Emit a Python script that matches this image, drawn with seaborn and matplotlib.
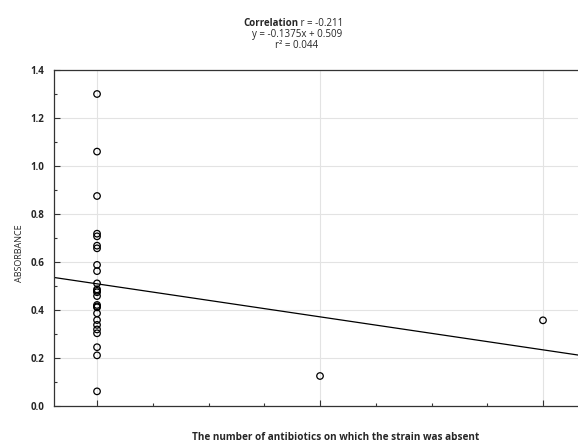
import numpy as np
import pandas as pd
import matplotlib.pyplot as plt
import seaborn as sns
from matplotlib.ticker import MultipleLocator

# valores
antibiotics = [0] * 25 + [1, 2]
absorbance = [1.30, 1.06, 0.875, 0.718, 0.707, 0.668, 0.657, 0.588, 0.562,
              0.511, 0.486, 0.474, 0.458, 0.421, 0.411, 0.386, 0.358, 0.338,
              0.319, 0.303, 0.245, 0.211, 0.061, 0.48, 0.415,
              0.125, 0.357]
slope = -0.1375
intercept = 0.509
r_value = -0.211
r2_value = 0.044

df = pd.DataFrame({'antibiotics': antibiotics, 'absorbance': absorbance})

sns.set_style("white")
plt.rcParams['font.family'] = ['Open Sans', 'DejaVu Sans']

fig = plt.figure(figsize=(5.78, 4.42), dpi=100)
ax = fig.add_axes([54 / 578, 36 / 442, 524 / 578, 336 / 442])

sns.scatterplot(data=df, x='antibiotics', y='absorbance', ax=ax,
                marker='o', s=22, facecolor='none', edgecolor='black',
                linewidth=0.9, zorder=3)
ax.axline((0, intercept), slope=slope, color='black', linewidth=0.9, zorder=2)

ax.set_xlim(-0.193, 2.157)
ax.set_ylim(0, 1.4)
ax.xaxis.set_major_locator(MultipleLocator(1))
ax.xaxis.set_minor_locator(MultipleLocator(0.25))
ax.yaxis.set_major_locator(MultipleLocator(0.2))
ax.yaxis.set_minor_locator(MultipleLocator(0.1))
ax.set_xticklabels([])
ax.yaxis.set_major_formatter(plt.FuncFormatter(lambda v, p: f'{v:.1f}'))
ax.tick_params(axis='both', which='both', direction='in', color='#333333',
               bottom=True, left=True, width=0.8)
ax.tick_params(axis='both', which='major', length=4)
ax.tick_params(axis='both', which='minor', length=2.5)
ax.tick_params(axis='y', labelsize=7, pad=7)
for lab in ax.get_yticklabels():
    lab.set_fontweight('bold')
ax.grid(True, which='major', color='#e3e3e3', linewidth=0.8, zorder=0)
ax.set_axisbelow(True)
for side in ['left', 'bottom', 'top']:
    ax.spines[side].set_color('#333333')
    ax.spines[side].set_linewidth(0.9)
ax.spines['right'].set_visible(False)
ax.set_xlabel('')
ax.set_ylabel('')

fig.text(336 / 578, 1 - 437 / 442, 'The number of antibiotics on which the strain was absent',
         ha='center', va='center', fontsize=7.2, fontweight='bold')
fig.text(20 / 578, 1 - 253 / 442, 'ABSORBANCE', rotation=90,
         ha='center', va='center', fontsize=6.5)

# título em três linhas
fig.text(298 / 578, 1 - 23 / 442, 'Correlation', ha='right', va='center',
         fontsize=7, fontweight='bold')
fig.text(298 / 578, 1 - 23 / 442, f' r = {r_value:.3f}', ha='left', va='center', fontsize=7)
fig.text(297 / 578, 1 - 34 / 442, f'y = {slope:.4f}x + {intercept:.3f}',
         ha='center', va='center', fontsize=7)
fig.text(297 / 578, 1 - 45 / 442, f'r² = {r2_value:.3f}', ha='center', va='center', fontsize=7)

fig.savefig('out.png', dpi=100)
